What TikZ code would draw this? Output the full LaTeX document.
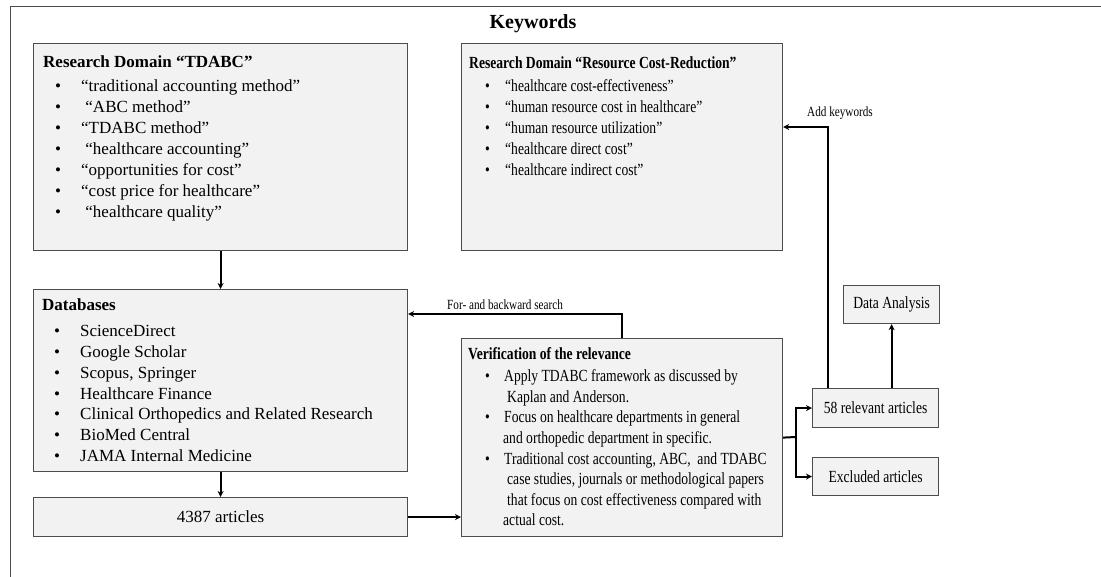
\documentclass[tikz,border=0pt]{standalone}
\usepackage{fontspec}
\setmainfont{Liberation Serif}
\newfontfamily\narrowfont[FakeStretch=0.8]{Liberation Serif}
\usetikzlibrary{positioning, arrows.meta}
\tikzset{
  box/.style={draw=black!70, fill=black!5, line width=1.2pt, inner sep=0pt, anchor=north west},
  txt/.style={align=left, anchor=north west, inner sep=0pt, font=\fontsize{17}{21}\selectfont},
  ntxt/.style={txt, font=\narrowfont\fontsize{17}{21}\selectfont},
  arr/.style={-{Stealth[length=6pt,width=6pt]}, line width=2pt},
  lbl/.style={font=\narrowfont\fontsize{14}{16}\selectfont, inner sep=1pt}}
\newcommand{\itm}[1]{\hspace*{12pt}\makebox[26pt][l]{\textbullet}#1}
\newcommand{\ritm}[1]{\hspace*{16pt}\makebox[20pt][l]{\textbullet}#1}

\begin{document}
\begin{tikzpicture}[x=1pt,y=-1pt]
  \useasboundingbox (0,0) rectangle (1101,577);
  % frame
  \draw[black!70, line width=0.8pt] (10,577) -- (10,6) -- (1101,6);
  \node[font=\bfseries\fontsize{20}{24}\selectfont] (kw) at (533,24) {Keywords};
  % boxes
  \node[box, minimum width=374pt, minimum height=207pt] (tdabc) at (33,43) {};
  \node[box, minimum width=321pt, minimum height=207pt] (res) at (461,43) {};
  \node[box, minimum width=374pt, minimum height=182pt] (db) at (33,289) {};
  \node[box, minimum width=374pt, minimum height=39pt] (art) at (33,497) {};
  \node[box, minimum width=321pt, minimum height=198pt] (verif) at (461,338) {};
  \node[box, minimum width=126pt, minimum height=39pt] (rel) at (812,388) {};
  \node[box, minimum width=126pt, minimum height=38pt] (excl) at (812,457) {};
  \node[box, minimum width=96pt, minimum height=38pt] (da) at (843,285) {};
  % texts
  \node[txt] (tdabctxt) at (43,56) {\textbf{Research Domain “TDABC”}\\[3pt]
    \itm{“traditional accounting method”}\\
    \itm{\ “ABC method”}\\
    \itm{“TDABC method”}\\
    \itm{\ “healthcare accounting”}\\
    \itm{“opportunities for cost”}\\
    \itm{“cost price for healthcare”}\\
    \itm{\ “healthcare quality”}};
  \node[ntxt] (restxt) at (469,57) {\textbf{Research Domain “Resource Cost-Reduction”}\\[2pt]
    \ritm{“healthcare cost-effectiveness”}\\
    \ritm{“human resource cost in healthcare”}\\
    \ritm{“human resource utilization”}\\
    \ritm{“healthcare direct cost”}\\
    \ritm{“healthcare indirect cost”}};
  \node[txt, font=\fontsize{17}{20.8}\selectfont] (dbtxt) at (42,299) {\textbf{Databases}\\[5pt]
    \itm{ScienceDirect}\\
    \itm{Google Scholar}\\
    \itm{Scopus, Springer}\\
    \itm{Healthcare Finance}\\
    \itm{Clinical Orthopedics and Related Research}\\
    \itm{BioMed Central}\\
    \itm{JAMA Internal Medicine}};
  \node[ntxt, font=\narrowfont\fontsize{17}{20.6}\selectfont] (veriftxt) at (468,347) {\textbf{Verification of the relevance}\\[2pt]
    \hspace*{17pt}\makebox[19pt][l]{\textbullet}Apply TDABC framework as discussed by\\
    \hspace*{39pt}Kaplan and Anderson.\\
    \hspace*{17pt}\makebox[19pt][l]{\textbullet}Focus on healthcare departments in general\\
    \hspace*{35pt}and orthopedic department in specific.\\
    \hspace*{17pt}\makebox[19pt][l]{\textbullet}Traditional cost accounting, ABC,\ \ and TDABC\\
    \hspace*{39pt}case studies, journals or methodological papers\\
    \hspace*{39pt}that focus on cost effectiveness compared with\\
    \hspace*{35pt}actual cost.};
  \node[font=\fontsize{17}{20}\selectfont] (arttxt) at (art.center) {4387 articles};
  \node[font=\narrowfont\fontsize{17}{20}\selectfont] (reltxt) at (rel.center) {58 relevant articles};
  \node[font=\narrowfont\fontsize{17}{20}\selectfont] (excltxt) at (excl.center) {Excluded articles};
  \node[font=\narrowfont\fontsize{17}{20}\selectfont] (datxt) at (da.center) {Data Analysis};
  % connectors
  \coordinate (fb) at (622,314);
  \coordinate (split) at (796,437);
  \coordinate (ak) at (828,127);
  \draw[arr] (tdabc.south) -- (db.north);
  \draw[arr] (db.south) -- (art.north);
  \draw[arr] (art.east) -- (art.east -| verif.west);
  \draw[arr] (verif.north -| fb) -- (fb) -- (fb -| db.east);
  \node[lbl, anchor=south west] (fbl) at (446,311) {For- and backward search};
  \draw[line width=2pt] (verif.east) -- (split);
  \draw[arr] (split) |- (rel.west);
  \draw[arr] (split) |- (excl.west);
  \draw[arr] (rel.north -| ak) -- (ak) -- (ak -| res.east);
  \node[lbl, anchor=west] (akl) at (806,113) {Add keywords};
  \draw[arr] (rel.north -| da.south) -- (da.south);
\end{tikzpicture}
\end{document}
